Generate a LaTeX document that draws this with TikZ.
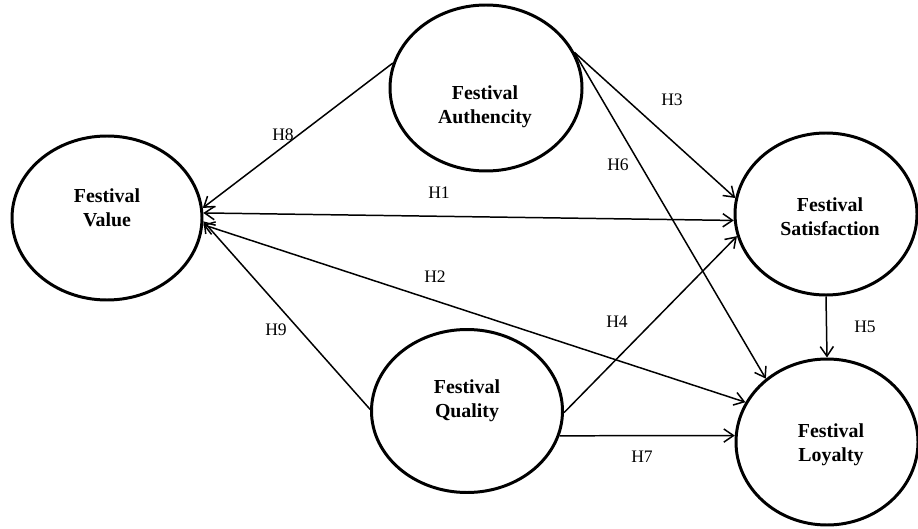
\documentclass[tikz,border=0pt]{standalone}
\usepackage{fontspec}
\setmainfont{Liberation Serif}
\usepackage{tikz}
\usetikzlibrary{arrows.meta,shapes.geometric,calc}

\begin{document}
\begin{tikzpicture}[
  construct/.style={draw,ellipse,line width=1.7pt,inner sep=0pt},
  ctext/.style={align=center,font=\fontsize{11.3}{13.8}\selectfont\bfseries},
  hyp/.style={font=\fontsize{10}{12}\selectfont},
  path/.style={line width=0.85pt,>={Straight Barb[length=5.5pt,width=7.5pt]}}]
\useasboundingbox (0,0) rectangle (18.36,10.56);
\node[construct,minimum width=3.80cm,minimum height=3.28cm] (value) at (2.14,6.20) {};
\node[construct,minimum width=3.84cm,minimum height=3.32cm] (auth) at (9.72,8.80) {};
\node[construct,minimum width=3.64cm,minimum height=3.24cm] (sat) at (16.52,6.28) {};
\node[construct,minimum width=3.82cm,minimum height=3.26cm] (qual) at (9.34,2.34) {};
\node[construct,minimum width=3.64cm,minimum height=3.32cm] (loyal) at (16.54,1.72) {};
\node[ctext] (valuetxt) at (2.14,6.40) {Festival\\Value};
\node[ctext] (authtxt) at (9.70,8.42) {Festival\\Authencity};
\node[ctext] (sattxt) at (16.60,6.22) {Festival\\Satisfaction};
\node[ctext] (qualtxt) at (9.34,2.54) {Festival\\Quality};
\node[ctext] (loyaltxt) at (16.62,1.66) {Festival\\Loyalty};
\draw[path,->] (auth.165) -- (value.6);
\draw[path,<->] (value.3) -- (sat.184);
\draw[path,<->] (value.356) -- (loyal.154);
\draw[path,->] (qual.179) -- (value.358);
\draw[path,->] (auth.22) -- (sat.170);
\draw[path,->] (auth.22) -- (loyal.134);
\draw[path,->] (qual.359) -- (sat.194);
\draw[path,->] (qual.345) -- (loyal.176);
\draw[path,->] (sat.south) -- (loyal.north);
\node[hyp] (h8) at (5.66,7.86) {H8};
\node[hyp] (h1) at (8.78,6.70) {H1};
\node[hyp] (h2) at (8.70,5.02) {H2};
\node[hyp] (h9) at (5.52,3.96) {H9};
\node[hyp] (h3) at (13.44,8.56) {H3};
\node[hyp] (h6) at (12.36,7.26) {H6};
\node[hyp] (h4) at (12.34,4.12) {H4};
\node[hyp] (h5) at (17.30,4.02) {H5};
\node[hyp] (h7) at (12.84,1.42) {H7};
\end{tikzpicture}
\end{document}
